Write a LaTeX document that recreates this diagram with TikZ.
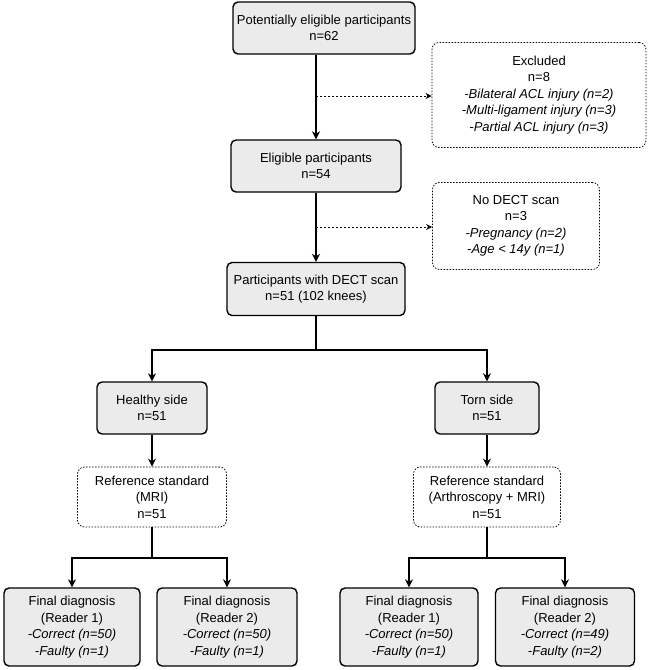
\documentclass[tikz,border=0pt]{standalone}
\usepackage{fontspec}
\setmainfont{Liberation Sans}
\usetikzlibrary{arrows.meta}
\begin{document}
\begin{tikzpicture}[x=1pt,y=-1pt,
  box/.style={draw=black,line width=1.4pt,fill=black!8,rounded corners=5pt,align=center,font=\fontsize{13}{16.5}\selectfont,inner sep=0pt},
  dbox/.style={draw=black,dash pattern=on 1.5pt off 1.5pt,line width=0.8pt,fill=white,rounded corners=7pt,align=center,font=\fontsize{13}{16.5}\selectfont,inner sep=0pt},
  arr/.style={line width=1.4pt,-{Stealth[length=8pt,width=8pt]}},
  darr/.style={line width=0.8pt,dash pattern=on 2pt off 2pt,-{Stealth[length=6pt,width=6pt]}}]
\useasboundingbox (0,0) rectangle (649,670);
\node[box,minimum width=182pt,minimum height=52pt] (top) at (324,28) {Potentially eligible participants\\n=62};
\node[dbox,minimum width=214pt,minimum height=105pt] (exc) at (539,95) {Excluded\\n=8\\\textit{-Bilateral ACL injury (n=2)}\\\textit{-Multi-ligament injury (n=3)}\\\textit{-Partial ACL injury (n=3)}};
\node[box,minimum width=170pt,minimum height=52pt] (elig) at (316,166) {Eligible participants\\n=54};
\node[dbox,minimum width=167pt,minimum height=87pt] (nod) at (516,226) {No DECT scan\\n=3\\\textit{-Pregnancy (n=2)}\\\textit{-Age < 14y (n=1)}};
\node[box,minimum width=178pt,minimum height=53pt] (dect) at (316,289) {Participants with DECT scan\\n=51 (102 knees)};
\node[box,minimum width=110pt,minimum height=52pt] (hs) at (152,408) {Healthy side\\n=51};
\node[box,minimum width=104pt,minimum height=52pt] (ts) at (487,408) {Torn side\\n=51};
\node[dbox,minimum width=149pt,minimum height=60pt] (rm) at (152,497) {Reference standard\\(MRI)\\n=51};
\node[dbox,minimum width=147pt,minimum height=60pt] (ra) at (487,497) {Reference standard\\(Arthroscopy + MRI)\\n=51};
\node[box,minimum width=136pt,minimum height=78pt] (f1) at (72,627) {Final diagnosis\\(Reader 1)\\\textit{-Correct (n=50)}\\\textit{-Faulty (n=1)}};
\node[box,minimum width=140pt,minimum height=78pt] (f2) at (227,627) {Final diagnosis\\(Reader 2)\\\textit{-Correct (n=50)}\\\textit{-Faulty (n=1)}};
\node[box,minimum width=138pt,minimum height=78pt] (f3) at (409,627) {Final diagnosis\\(Reader 1)\\\textit{-Correct (n=50)}\\\textit{-Faulty (n=1)}};
\node[box,minimum width=139pt,minimum height=78pt] (f4) at (565,627) {Final diagnosis\\(Reader 2)\\\textit{-Correct (n=49)}\\\textit{-Faulty (n=2)}};
\coordinate (j1) at (316,96);
\coordinate (j2) at (316,227);
\coordinate (j3) at (316,350);
\coordinate (j4) at (152,558);
\coordinate (j5) at (487,558);
\draw[arr] (top.south -| elig) -- (elig);
\draw[darr] (j1) -- (exc.west |- j1);
\draw[arr] (elig) -- (dect);
\draw[darr] (j2) -- (nod.west |- j2);
\draw[line width=1.4pt] (dect) -- (j3);
\draw[arr] (j3) -| (hs);
\draw[arr] (j3) -| (ts);
\draw[arr] (hs) -- (rm);
\draw[arr] (ts) -- (ra);
\draw[line width=1.4pt] (rm) -- (j4);
\draw[line width=1.4pt] (ra) -- (j5);
\draw[arr] (j4) -| (f1);
\draw[arr] (j4) -| (f2);
\draw[arr] (j5) -| (f3);
\draw[arr] (j5) -| (f4);
\end{tikzpicture}
\end{document}
